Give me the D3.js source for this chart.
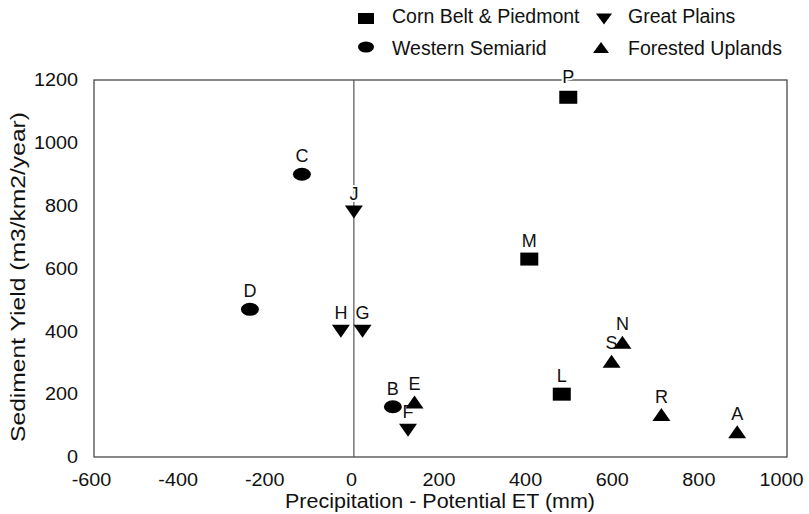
<!DOCTYPE html>
<html>
<head>
<meta charset="utf-8">
<script src="https://cdn.jsdelivr.net/npm/d3@7"></script>
<style>
  body { margin: 0; background: #fff; }
  text { font-family: "Liberation Sans", Arial, sans-serif; fill: #111; }
</style>
</head>
<body>
<svg width="809" height="514"></svg>
<script>
// site labels, region, x = precipitation - PET (mm), y = sediment yield
const sites   = ["P", "M", "L", "C", "D", "B", "J", "H", "G", "F", "E", "S", "N", "R", "A"];
const regions = ["corn", "corn", "corn", "west", "west", "west", "plains", "plains", "plains", "plains",
                 "forest", "forest", "forest", "forest", "forest"];
const precipMinusET = [495, 405, 480, -120, -240, 90, 0, -30, 20, 125, 140, 595, 620, 710, 885];
const sedimentYield = [1145, 630, 200, 900, 470, 160, 780, 400, 400, 85, 175, 305, 365, 135, 80];

const xTicks = [-600, -400, -200, 0, 200, 400, 600, 800, 1000];
const yTicks = [0, 200, 400, 600, 800, 1000, 1200];

const legendItems = [
  { key: "corn", label: "Corn Belt & Piedmont" },
  { key: "plains", label: "Great Plains" },
  { key: "west", label: "Western Semiarid" },
  { key: "forest", label: "Forested Uplands" }
];

const svg = d3.select("svg");
const margin = { left: 94, right: 22, top: 80, bottom: 57 };
const width = 809, height = 514;

const x = d3.scaleLinear().domain([-600, 1000]).range([margin.left, width - margin.right]);
const y = d3.scaleLinear().domain([0, 1200]).range([height - margin.bottom, margin.top]);

// draw a marker shape centred at 0,0
function marker(g, kind, w, h) {
  const a = w / 2, b = h / 2;
  if (kind === "corn") {
    g.append("rect").attr("x", -a).attr("y", -b).attr("width", w).attr("height", h);
  } else if (kind === "west") {
    g.append("ellipse").attr("rx", a).attr("ry", b);
  } else if (kind === "plains") {
    g.append("path").attr("d", `M${-a},${-b}L${a},${-b}L0,${b}Z`);
  } else {
    g.append("path").attr("d", `M${-a},${b}L${a},${b}L0,${-b}Z`);
  }
  g.attr("fill", "#000");
}

// the scanned original uses a slightly wide face; stretch text horizontally
function widen(sel, k) {
  sel.each(function () {
    const w = this.getComputedTextLength();
    d3.select(this).attr("textLength", w * k).attr("lengthAdjust", "spacingAndGlyphs");
  });
}

// frame
svg.append("rect")
  .attr("x", x(-600)).attr("y", y(1200))
  .attr("width", x(1000) - x(-600)).attr("height", y(0) - y(1200))
  .attr("fill", "none").attr("stroke", "#3a3a3a").attr("stroke-width", 1.2);

// zero line
svg.append("line")
  .attr("x1", x(0)).attr("x2", x(0)).attr("y1", y(0)).attr("y2", y(1200))
  .attr("stroke", "#555").attr("stroke-width", 1.2);

// axes (labels only, no tick marks)
const xAxis = svg.append("g")
  .attr("transform", `translate(0,${y(0)})`)
  .call(d3.axisBottom(x).tickValues(xTicks).tickFormat(d => String(d)).tickSize(0).tickPadding(16));
const yAxis = svg.append("g")
  .attr("transform", `translate(${x(-600)},0)`)
  .call(d3.axisLeft(y).tickValues(yTicks).tickFormat(d => String(d)).tickSize(0).tickPadding(16));
[xAxis, yAxis].forEach(a => {
  a.select(".domain").remove();
  a.selectAll("text").attr("font-size", 18).attr("font-family", "Liberation Sans, Arial, sans-serif").attr("fill", "#111");
  widen(a.selectAll("text"), 1.1);
});
xAxis.selectAll("text").attr("dx", d => d === 1000 ? -6 : d > 0 ? -2 : -3);

svg.append("text")
  .attr("x", 440).attr("y", 507.5)
  .attr("text-anchor", "middle").attr("font-size", 19.5)
  .attr("textLength", 310).attr("lengthAdjust", "spacingAndGlyphs")
  .text("Precipitation - Potential ET (mm)");

svg.append("text")
  .attr("transform", `translate(25,277) rotate(-90)`)
  .attr("text-anchor", "middle").attr("font-size", 21)
  .attr("textLength", 330).attr("lengthAdjust", "spacingAndGlyphs")
  .text("Sediment Yield (m3/km2/year)");

// points
const pts = svg.append("g").selectAll("g")
  .data(sites.map((s, i) => ({ s, r: regions[i], px: precipMinusET[i], py: sedimentYield[i] })))
  .join("g")
  .attr("transform", d => `translate(${x(d.px)},${y(d.py)})`);
pts.each(function (d) { marker(d3.select(this), d.r, 18, 13); });
pts.append("text")
  .attr("y", d => d.s === "P" ? -14 : -12)
  .attr("text-anchor", "middle").attr("font-size", 18)
  .attr("stroke", d => (d.s === "P" || d.s === "J") ? "#fff" : "none")
  .attr("stroke-width", 4).attr("paint-order", "stroke")
  .text(d => d.s);

// legend
const legPos = [[366, 18.5], [604, 19], [366, 47], [601, 47.5]];
const leg = svg.append("g").selectAll("g").data(legendItems).join("g")
  .attr("transform", (d, i) => `translate(${legPos[i][0]},${legPos[i][1]})`);
leg.each(function (d) { marker(d3.select(this), d.key, 16, 11); });
leg.append("text")
  .attr("x", (d, i) => i % 2 === 0 ? 392 - legPos[i][0] : 628 - legPos[i][0])
  .attr("y", (d, i) => (i < 2 ? 23 : 55) - legPos[i][1])
  .attr("font-size", 19.5)
  .text(d => d.label);
</script>
</body>
</html>
